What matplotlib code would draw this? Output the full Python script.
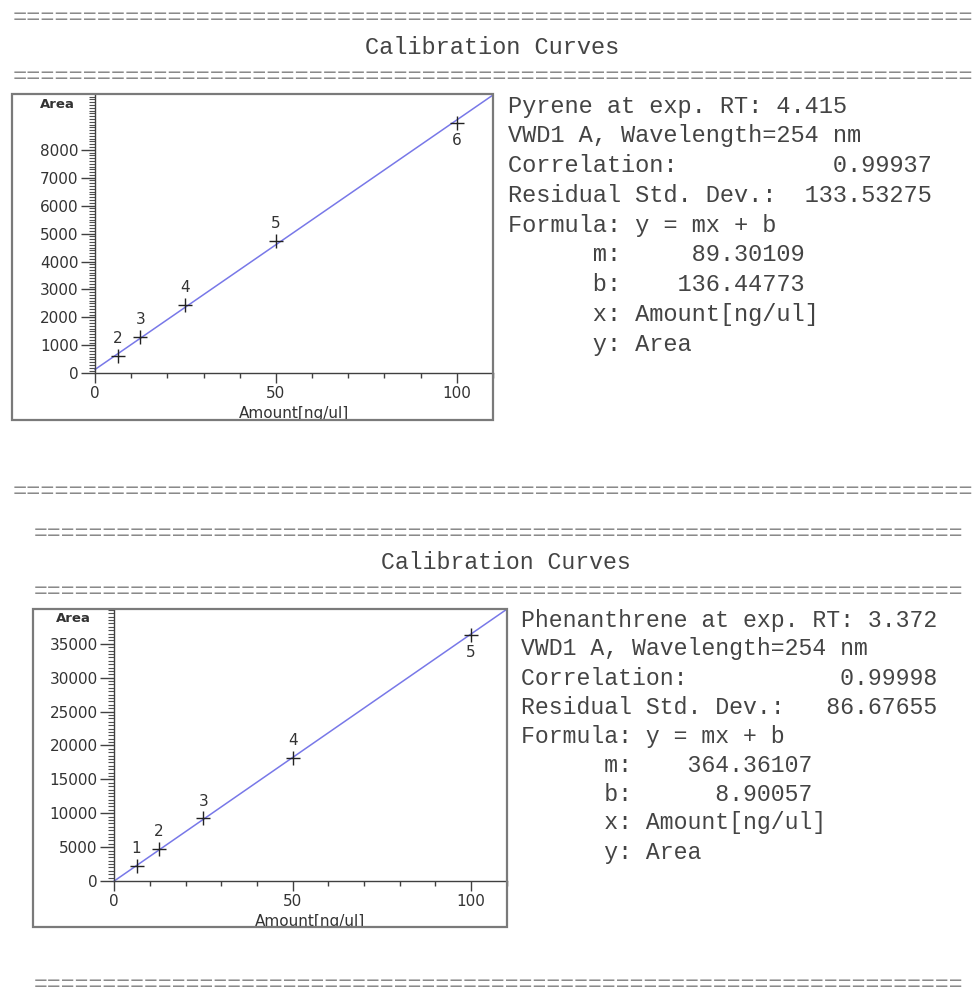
import matplotlib
matplotlib.use("Agg")
import matplotlib.pyplot as plt
from matplotlib.patches import Rectangle
from matplotlib.ticker import FixedLocator, MultipleLocator

plt.rcParams["font.family"] = ["DejaVu Sans"]

# ---------------- data ----------------
amount_pyrene = [6.25, 12.5, 25, 50, 100]
area_pyrene = [630, 1290, 2440, 4750, 8970]
labels_pyrene = ["2", "3", "4", "5", "6"]
m_pyrene, b_pyrene = 89.30109, 136.44773
yticks_pyrene = [0, 1000, 2000, 3000, 4000, 5000, 6000, 7000, 8000]

amount_phen = [6.25, 12.5, 25, 50, 100]
area_phen = [2250, 4670, 9230, 18210, 36330]
labels_phen = ["1", "2", "3", "4", "5"]
m_phen, b_phen = 364.36107, 8.90057
yticks_phen = [0, 5000, 10000, 15000, 20000, 25000, 30000, 35000]

xticks = [0, 50, 100]
x_max = 110

info_pyrene = [
    "Pyrene at exp. RT: 4.415",
    "VWD1 A, Wavelength=254 nm",
    "Correlation:           0.99937",
    "Residual Std. Dev.:  133.53275",
    "Formula: y = mx + b",
    "      m:     89.30109",
    "      b:    136.44773",
    "      x: Amount[ng/ul]",
    "      y: Area",
]
info_phen = [
    "Phenanthrene at exp. RT: 3.372",
    "VWD1 A, Wavelength=254 nm",
    "Correlation:           0.99998",
    "Residual Std. Dev.:   86.67655",
    "Formula: y = mx + b",
    "      m:    364.36107",
    "      b:      8.90057",
    "      x: Amount[ng/ul]",
    "      y: Area",
]
title_text = "Calibration Curves"
x_label = "Amount[ng/ul]"
y_label = "Area"

# ---------------- layout helpers ----------------
W, H = 979, 996
fig = plt.figure(figsize=(W / 100, H / 100), dpi=100)
fig.patch.set_facecolor("white")


def fx(x):
    return x / W


def fy(y):
    return 1 - y / H


MONO = "Liberation Mono"
TXT = "#444444"
SEP = "#8a8a8a"


def sep_row(x, y, size, n):
    fig.text(fx(x), fy(y), "=" * n, ha="left", va="center",
             family=MONO, fontsize=size, color=SEP)


def panel(box, axpix, amounts, areas, labels, m, b, yticks, yminor,
          area_xy, info, info_xy, info_dy, info_size):
    bx0, by0, bx1, by1 = box
    rect = Rectangle((fx(bx0), fy(by1)), (bx1 - bx0) / W, (by1 - by0) / H,
                     transform=fig.transFigure, fill=False,
                     ec="#7a7a7a", lw=1.6, zorder=20)
    fig.add_artist(rect)

    ax0, ay_top, ax1, ay_bot = axpix
    ax = fig.add_axes([fx(ax0), fy(ay_bot), (ax1 - ax0) / W, (ay_bot - ay_top) / H])
    ax.set_facecolor("white")
    ymax = m * x_max + b
    ax.set_xlim(0, x_max)
    ax.set_ylim(0, ymax)
    for s in ("top", "right"):
        ax.spines[s].set_visible(False)
    for s in ("left", "bottom"):
        ax.spines[s].set_color("#404040")
        ax.spines[s].set_linewidth(1.0)

    ax.xaxis.set_major_locator(FixedLocator(xticks))
    ax.xaxis.set_minor_locator(MultipleLocator(10))
    ax.yaxis.set_major_locator(FixedLocator(yticks))
    ax.yaxis.set_minor_locator(MultipleLocator(yminor))
    ax.tick_params(axis="y", which="major", length=10, width=1.0, pad=2,
                   labelsize=11, labelcolor="#333333", color="#404040")
    ax.tick_params(axis="y", which="minor", length=4, width=0.8, color="#505050")
    ax.tick_params(axis="x", which="major", length=7, width=1.0, pad=2,
                   labelsize=11, labelcolor="#333333", color="#404040")
    ax.tick_params(axis="x", which="minor", length=3.5, width=1.0, color="#404040")

    # fit line
    xs = [0, x_max]
    ax.plot(xs, [m * v + b for v in xs], color="#7878e8", lw=1.1,
            clip_on=False, zorder=2)
    # calibration points
    ax.plot(amounts, areas, ls="none", marker="+", ms=10, mew=1.0,
            color="#222222", zorder=3)
    n = len(amounts)
    for i, (xv, yv, lab) in enumerate(zip(amounts, areas, labels)):
        off = -12.5 if i == n - 1 else 12.5
        ax.annotate(lab, (xv, yv), xytext=(0, off), textcoords="offset points",
                    ha="center", va="center", fontsize=11, color="#333333")

    ax.set_xlabel(x_label, fontsize=11, color="#333333", labelpad=4)
    ax.xaxis.label.set_clip_path(rect)

    fig.text(fx(area_xy[0]), fy(area_xy[1]), y_label, ha="right", va="center",
             fontsize=9.5, fontweight="bold", color="#333333")

    for k, line in enumerate(info):
        fig.text(fx(info_xy[0]), fy(info_xy[1] + k * info_dy), line,
                 ha="left", va="center", family=MONO, fontsize=info_size,
                 color=TXT)
    return ax


# ---------------- report header 1 ----------------
sep_row(13, 17, 17, 68)
fig.text(fx(492), fy(47), title_text, ha="center", va="center",
         family=MONO, fontsize=17, color=TXT)
sep_row(13, 76, 17, 68)

panel(box=(12.3, 94.3, 492.7, 420.5), axpix=(95, 95, 493, 373.3),
      amounts=amount_pyrene, areas=area_pyrene, labels=labels_pyrene,
      m=m_pyrene, b=b_pyrene, yticks=yticks_pyrene, yminor=100,
      area_xy=(75, 105), info=info_pyrene, info_xy=(508, 106),
      info_dy=29.75, info_size=17)

sep_row(13, 492, 17, 68)

# ---------------- report header 2 ----------------
sep_row(34, 533, 16.7, 67)
fig.text(fx(506), fy(562), title_text, ha="center", va="center",
         family=MONO, fontsize=16.7, color=TXT)
sep_row(34, 591, 16.7, 67)

panel(box=(33.3, 609.3, 506.7, 927.3), axpix=(114.3, 609.3, 506.7, 881),
      amounts=amount_phen, areas=area_phen, labels=labels_phen,
      m=m_phen, b=b_phen, yticks=yticks_phen, yminor=500,
      area_xy=(91, 619), info=info_phen, info_xy=(521, 620),
      info_dy=29, info_size=16.7)

sep_row(34, 984, 16.7, 67)

fig.savefig("out.png", dpi=100, facecolor="white")
